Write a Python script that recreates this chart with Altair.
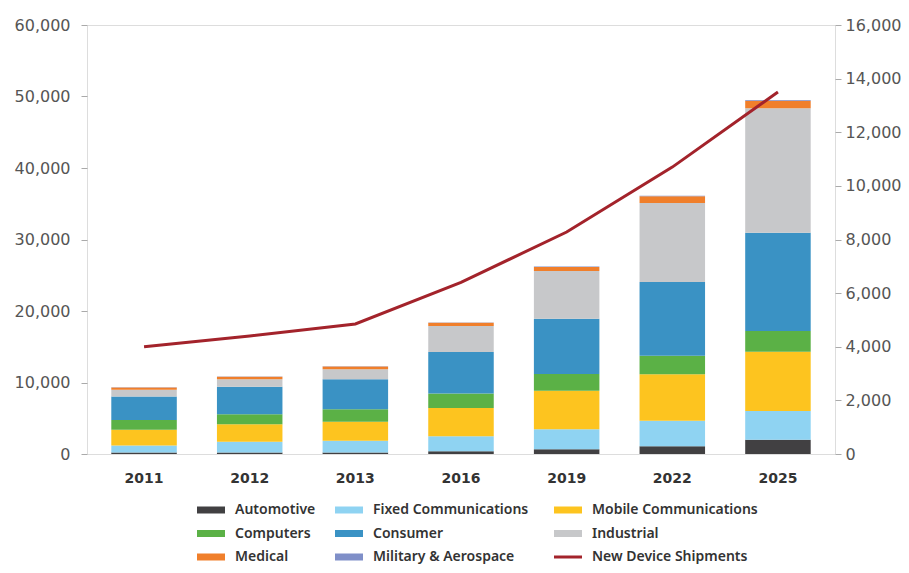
import altair as alt
import pandas as pd

years = ["2011", "2012", "2013", "2016", "2019", "2022", "2025"]
categories = ["Automotive", "Fixed Communications", "Mobile Communications", "Computers",
              "Consumer", "Industrial", "Medical", "Military & Aerospace"]
automotive = [200, 200, 200, 400, 650, 1100, 2000]
fixed_comm = [1000, 1500, 1650, 2100, 2800, 3550, 4000]
mobile_comm = [2200, 2450, 2650, 3950, 5400, 6500, 8300]
computers = [1350, 1400, 1750, 2000, 2350, 2600, 2900]
consumer = [3300, 3850, 4200, 5800, 7700, 10300, 13750]
industrial = [950, 1050, 1400, 3650, 6700, 11050, 17400]
medical = [300, 350, 400, 450, 550, 950, 1050]
military = [30, 30, 40, 50, 60, 80, 100]
line_name = "New Device Shipments"
shipments = [4000, 4400, 4850, 6400, 8280, 10700, 13500]

colors = ["#414042", "#8fd3f2", "#fdc41f", "#5bb146", "#3a92c4", "#c7c8ca",
          "#f07f2b", "#7f8fc8", "#a3232b"]

series_values = [automotive, fixed_comm, mobile_comm, computers, consumer,
                 industrial, medical, military]
rows = []
for ci, (cat, vals) in enumerate(zip(categories, series_values)):
    for y, v in zip(years, vals):
        rows.append({"year": y, "series": cat, "value": v, "order": ci})
bars_df = pd.DataFrame(rows)
line_df = pd.DataFrame({"year": years, "series": [line_name] * len(years), "value": shipments})

domain = categories + [line_name]
color_scale = alt.Scale(domain=domain, range=colors)

FONT = "DejaVu Sans"
LEG_FONT = "Noto Sans"

rect_path = "M-2,-0.5H2V0.5H-2Z"
line_path = "M-2,0H2"

legend = alt.Legend(
    title=None, orient="none", legendX=117, legendY=478, direction="horizontal",
    columns=3,
    symbolType=alt.ExprRef(expr="datum.value === '%s' ? '%s' : '%s'" % (line_name, line_path, rect_path)),
    symbolStrokeWidth=alt.ExprRef(expr="datum.value === '%s' ? 3 : 0" % line_name),
    symbolSize=196, symbolOpacity=1, labelOffset=17, labelLimit=300,
    columnPadding=19, rowPadding=9.5, padding=0,
    labelFont=LEG_FONT, labelFontSize=14, labelColor="#333333", labelFontWeight=600,
)

x_enc = alt.X("year:N", sort=years, title=None,
              scale=alt.Scale(paddingInner=0.38, paddingOuter=0.23),
              axis=alt.Axis(labelAngle=0, ticks=False, domain=False, labelPadding=17,
                            labelFont=FONT, labelFontSize=14, labelFontWeight="bold",
                            labelColor="#333333"))

bars = alt.Chart(bars_df).mark_bar(strokeWidth=0).encode(
    x=x_enc,
    y=alt.Y("value:Q", stack="zero", title=None,
            scale=alt.Scale(domain=[0, 60000], nice=False),
            axis=alt.Axis(values=list(range(0, 60001, 10000)), format=",.0f", tickSize=6,
                          tickColor="#aaaaaa", domain=False, grid=False, labelPadding=11,
                          labelFont=FONT, labelFontSize=16, labelColor="#555555")),
    color=alt.Color("series:N", scale=color_scale, legend=legend),
    order=alt.Order("order:Q"),
)

line = alt.Chart(line_df).mark_line(strokeWidth=3).encode(
    x=alt.X("year:N", sort=years),
    y=alt.Y("value:Q", title=None,
            scale=alt.Scale(domain=[0, 16000], nice=False),
            axis=alt.Axis(orient="right", values=list(range(0, 16001, 2000)), format=",.0f",
                          tickSize=6, tickColor="#aaaaaa", domain=False, grid=False,
                          labelPadding=4, labelFont=FONT, labelFontSize=16,
                          labelColor="#555555")),
    color=alt.Color("series:N", scale=color_scale, legend=legend),
)

chart = alt.layer(bars, line).resolve_scale(y="independent").properties(
    width=748, height=429,
    autosize=alt.AutoSizeParams(type="none"),
    padding={"left": 79, "top": 17, "right": 66, "bottom": 111},
).configure_view(stroke="#9a9a9a", strokeWidth=2).configure(background="white")

chart.save("out.html", embed_options={"renderer": "svg", "actions": False})
